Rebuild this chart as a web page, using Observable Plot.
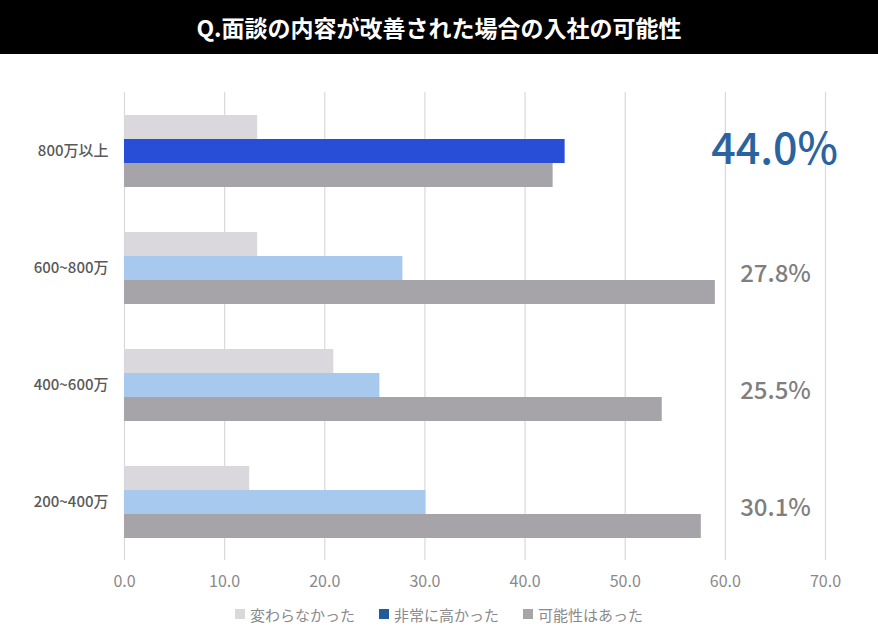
<!DOCTYPE html>
<html>
<head>
<meta charset="utf-8">
<script src="https://cdn.jsdelivr.net/npm/d3@7"></script>
<script src="https://cdn.jsdelivr.net/npm/@observablehq/plot@0.6"></script>
<style>
  html, body { margin: 0; padding: 0; background: #fff; }
  body { width: 878px; height: 636px; overflow: hidden; font-family: "Noto Sans CJK JP", "Noto Sans", sans-serif; }
  #title { height: 54px; line-height: 54px; background: #000; color: #fff; text-align: center; font-size: 23px; font-weight: 700; }
  #legend { height: 40px; display: flex; justify-content: center; align-items: center; font-size: 15px; color: #8a8a8a; }
  #legend .item { display: flex; align-items: center; margin: 0 12px; }
  #legend .sw { width: 10px; height: 10px; margin-right: 5px; }
  svg { display: block; }
</style>
</head>
<body>
<div id="title">Q.面談の内容が改善された場合の入社の可能性</div>
<div id="chart"></div>
<div id="legend"></div>
<script>
// ---- data ----
const categories = ["800万以上", "600~800万", "400~600万", "200~400万"];
const seriesNames = ["変わらなかった", "非常に高かった", "可能性はあった"];
const unchanged = [13.3, 13.3, 20.9, 12.5];
const veryHigh = [44.0, 27.8, 25.5, 30.1];
const possible = [42.8, 59.0, 53.7, 57.6];
const xTicks = [0, 10, 20, 30, 40, 50, 60, 70];
const highlightCategory = "800万以上";

// ---- styles ----
const barColors = { unchanged: "#dad8dc", high: "#284ed8", highSoft: "#a7c9ee", possible: "#a6a4a9" };
const legendColors = ["#d9d9d9", "#1f5c99", "#a6a6a6"];

const rows = categories.map((c, i) => ({ category: c, unchanged: unchanged[i], veryHigh: veryHigh[i], possible: possible[i] }));

const fmt = d3.format(".1f");

const plot = Plot.plot({
  width: 878,
  height: 540,
  marginTop: 38,
  marginBottom: 34,
  marginLeft: 124,
  marginRight: 53,
  style: { fontFamily: "'Noto Sans CJK JP', 'Noto Sans', sans-serif", background: "#fff" },
  x: { domain: [0, 70] },
  y: { domain: categories, paddingInner: 0.387, paddingOuter: 0.187 },
  marks: [
    Plot.gridX(xTicks, { stroke: "#d9d9d9", strokeOpacity: 1, strokeWidth: 1.2 }),
    Plot.barX(rows, { y: "category", x: "unchanged", fill: barColors.unchanged, insetTop: 0, insetBottom: 48 }),
    Plot.barX(rows, { y: "category", x: "veryHigh", fill: d => d.category === highlightCategory ? barColors.high : barColors.highSoft, insetTop: 24, insetBottom: 24 }),
    Plot.barX(rows, { y: "category", x: "possible", fill: barColors.possible, insetTop: 48, insetBottom: 0 }),
    Plot.axisX({ ticks: xTicks, tickSize: 0, tickPadding: 15, tickFormat: fmt, fontSize: 16, fill: "#8a8a8a", label: null }),
    Plot.axisY({ tickSize: 0, tickPadding: 16, fontSize: 15, fontWeight: 500, fill: "#595959", label: null }),
    Plot.text(rows.filter(d => d.category === highlightCategory), {
      y: "category", text: d => fmt(d.veryHigh) + "%", frameAnchor: "right", dx: -51, dy: -1,
      textAnchor: "middle", fontSize: 43, fontWeight: 500, fill: "#2a64a0",
      fontFamily: "'Noto Sans CJK JP', Roboto, sans-serif"
    }),
    Plot.text(rows.filter(d => d.category !== highlightCategory), {
      y: "category", text: d => fmt(d.veryHigh) + "%", frameAnchor: "right", dx: -50, dy: 6,
      textAnchor: "middle", fontSize: 24, fontWeight: 500, fill: "#7f7f7f",
      fontFamily: "'Noto Sans CJK JP', Roboto, sans-serif"
    })
  ]
});
document.getElementById("chart").appendChild(plot);

const legend = d3.select("#legend");
seriesNames.forEach((name, i) => {
  const item = legend.append("div").attr("class", "item");
  item.append("div").attr("class", "sw").style("background", legendColors[i]);
  item.append("span").text(name);
});
</script>
</body>
</html>
